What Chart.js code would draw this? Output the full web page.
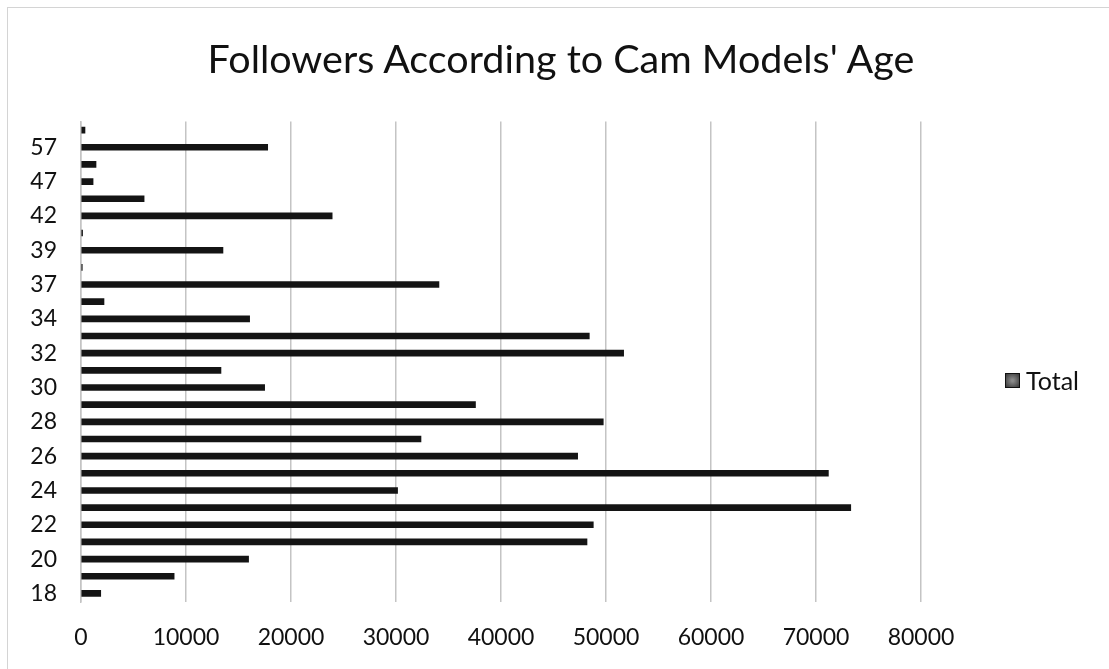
<!DOCTYPE html>
<html>
<head>
<meta charset="utf-8">
<script src="https://cdn.jsdelivr.net/npm/chart.js@4.4.1/dist/chart.umd.min.js"></script>
<style>
  html, body { margin: 0; padding: 0; background: #fff; overflow: hidden; }
  #frame { position: absolute; left: 7px; top: 7px; width: 1200px; height: 800px;
           border-left: 1px solid #d4d4d4; border-top: 1px solid #d4d4d4; }
  #wrap { position: absolute; left: 0; top: 0; width: 1109px; height: 669px; }
  #title { position: absolute; left: 0; top: 38px; width: 1122px; text-align: center;
           font: 39.5px/40px Lato, "Open Sans", sans-serif; color: #111; white-space: nowrap; }
</style>
</head>
<body>
<div id="frame"></div>
<div id="wrap"><canvas id="chart" width="1109" height="669"></canvas></div>
<div id="title">Followers According to Cam Models' Age</div>
<script>
// Age groups (bottom to top) and follower totals per group
const ages = ['18','19','20','21','22','23','24','25','26','27','28','29','30','31','32','33','34',
              '36','37','38','39','40','42','45','47','50','57','58'];
const totals = [1880, 8870, 15960, 48190, 48790, 73310, 30150, 71180, 47300, 32380, 49740, 37570,
                17490, 13330, 51680, 48410, 16060, 2190, 34090, 120, 13520, 150, 23920, 6010,
                1150, 1430, 17780, 380];
const xTicks = [0, 10000, 20000, 30000, 40000, 50000, 60000, 70000, 80000];

const FONT = 'Lato, "Open Sans", sans-serif';

// Legend drawn at the right of the plot, using the dataset's own label and colour
const sideLegend = {
  id: 'sideLegend',
  afterDraw(chart) {
    const ctx = chart.ctx;
    const area = chart.chartArea;
    const ds = chart.data.datasets[0];
    const x = area.right + 84;
    const y = area.top + 259;
    const s = 15;
    ctx.save();
    const g = ctx.createRadialGradient(x + s / 2, y, 1, x + s / 2, y, s * 0.7);
    g.addColorStop(0, '#8a8a8a');
    g.addColorStop(1, '#2a2a2a');
    ctx.fillStyle = g;
    ctx.fillRect(x, y - s / 2, s, s);
    ctx.strokeStyle = '#111';
    ctx.lineWidth = 1;
    ctx.strokeRect(x + 0.5, y - s / 2 + 0.5, s - 1, s - 1);
    ctx.fillStyle = '#111';
    ctx.font = '25px ' + FONT;
    ctx.textBaseline = 'middle';
    ctx.textAlign = 'left';
    ctx.fillText(ds.label, x + s + 6, y + 1);
    ctx.restore();
  }
};

new Chart(document.getElementById('chart'), {
  type: 'bar',
  data: {
    labels: ages,
    datasets: [{
      label: 'Total',
      data: totals,
      backgroundColor: '#141414',
      borderWidth: 0,
      barThickness: 6
    }]
  },
  options: {
    indexAxis: 'y',
    responsive: false,
    animation: false,
    layout: { padding: { left: 30, right: 188, top: 121.5, bottom: 0 } },
    plugins: {
      legend: { display: false },
      tooltip: { enabled: false },
      title: { display: false }
    },
    scales: {
      x: {
        min: 0,
        max: 80000,
        afterBuildTicks(scale) { scale.ticks = xTicks.map(v => ({ value: v })); },
        ticks: {
          color: '#111',
          font: { family: FONT, size: 23 },
          padding: 22,
          maxRotation: 0,
          callback(value) { return String(value); }
        },
        grid: { color: '#c4c4c4', lineWidth: 1.5, drawTicks: false },
        border: { display: false },
        afterFit(scale) { scale.height = 67; }
      },
      y: {
        reverse: true,
        ticks: {
          autoSkip: false,
          color: '#111',
          font: { family: FONT, size: 23 },
          padding: 24,
          callback(value, index) { return index % 2 === 0 ? this.getLabelForValue(value) : ''; }
        },
        grid: { display: false, drawTicks: false },
        border: { display: true, color: '#c4c4c4', width: 1.5 },
        afterFit(scale) { scale.width = 51; }
      }
    }
  },
  plugins: [sideLegend]
});
</script>
</body>
</html>
